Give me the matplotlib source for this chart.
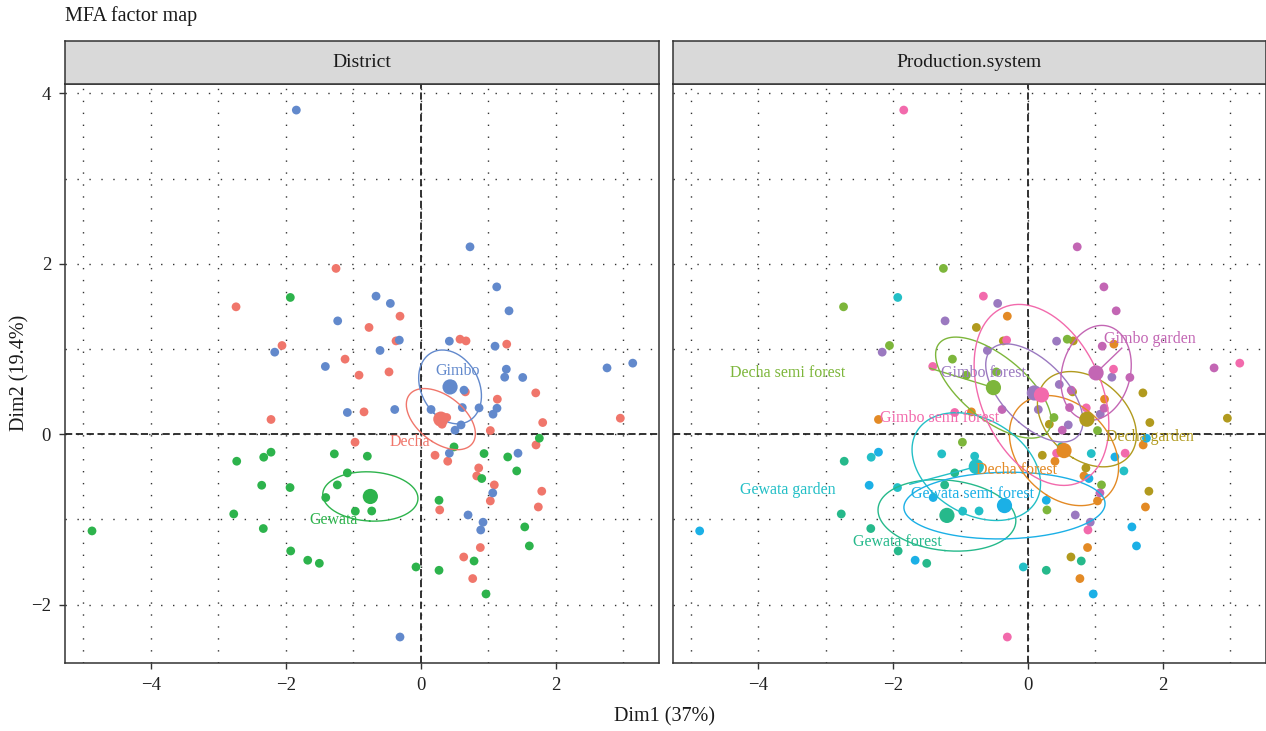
import numpy as np
import pandas as pd
import matplotlib.pyplot as plt

plt.rcParams['font.family'] = ['Liberation Serif', 'DejaVu Serif']

# individual coordinates on Dim1 / Dim2, one pair of lists per production system
decha_forest_d1 = [-2.218, -0.307, 1.274, 1.135, -0.840, 1.708, 0.400, 0.830, 1.031, 1.742, 0.883, 0.770]
decha_forest_d2 = [0.173, 1.385, 1.057, 0.411, 0.262, -0.126, -0.317, -0.490, -0.783, -0.854, -1.330, -1.694]

decha_garden_d1 = [-0.766, -0.366, 0.671, 0.661, 1.704, 0.316, 1.807, 2.957, 0.212, 0.859, 1.793, 0.637]
decha_garden_d2 = [1.253, 1.095, 1.095, 0.497, 0.485, 0.117, 0.137, 0.188, -0.247, -0.396, -0.669, -1.441]

decha_semi_d1 = [-1.255, -2.736, -2.055, -1.121, -0.914, -0.973, -0.470, 0.385, 1.031, 1.090, 0.281, 0.582]
decha_semi_d2 = [1.946, 1.495, 1.041, 0.881, 0.693, -0.094, 0.731, 0.196, 0.043, -0.595, -0.889, 1.115]

gewata_forest_d1 = [-2.726, 0.493, -1.087, -1.236, -2.770, -2.332, -1.926, -1.502, 0.790, 0.271]
gewata_forest_d2 = [-0.317, -0.149, -0.454, -0.595, -0.936, -1.107, -1.370, -1.515, -1.488, -1.597]

gewata_garden_d1 = [-1.932, -2.326, -1.280, 0.938, 1.422, -0.791, -1.936, -0.969, -0.726, -0.070]
gewata_garden_d2 = [1.605, -0.270, -0.231, -0.227, -0.431, -0.258, -0.626, -0.904, -0.901, -1.558]

gewata_semi_d1 = [-2.218, 1.757, 1.289, 0.904, -2.356, -1.407, -4.870, -1.674, 0.271, 1.541, 1.609, 0.967]
gewata_semi_d2 = [-0.211, -0.047, -0.267, -0.520, -0.599, -0.743, -1.135, -1.479, -0.775, -1.088, -1.311, -1.875]

gimbo_forest_d1 = [-1.230, -2.163, -0.450, 0.424, -0.603, 1.244, 0.464, 0.153, 1.071, 0.597, 0.701, 0.923]
gimbo_forest_d2 = [1.330, 0.963, 1.535, 1.092, 0.983, 0.669, 0.584, 0.290, 0.235, 0.109, -0.948, -1.033]

gimbo_garden_d1 = [0.730, 1.126, 1.308, 1.101, 1.511, 2.760, 1.130, 1.067, 0.641, -0.385, 0.508, 0.616]
gimbo_garden_d2 = [2.199, 1.729, 1.448, 1.033, 0.666, 0.778, 0.305, -0.689, 0.517, 0.290, 0.047, 0.313]

gimbo_semi_d1 = [-1.843, -1.413, -1.087, -0.662, -0.317, 1.268, 3.141, 0.864, 0.424, 1.441, 0.889, -0.307]
gimbo_semi_d2 = [3.804, 0.795, 0.255, 1.620, 1.104, 0.763, 0.834, 0.309, -0.223, -0.223, -1.124, -2.380]

systems = {
    "Decha forest": (decha_forest_d1, decha_forest_d2),
    "Decha garden": (decha_garden_d1, decha_garden_d2),
    "Decha semi forest": (decha_semi_d1, decha_semi_d2),
    "Gewata forest": (gewata_forest_d1, gewata_forest_d2),
    "Gewata garden": (gewata_garden_d1, gewata_garden_d2),
    "Gewata semi forest": (gewata_semi_d1, gewata_semi_d2),
    "Gimbo forest": (gimbo_forest_d1, gimbo_forest_d2),
    "Gimbo garden": (gimbo_garden_d1, gimbo_garden_d2),
    "Gimbo semi forest": (gimbo_semi_d1, gimbo_semi_d2),
}

district_colors = {"Decha": "#F0766B", "Gewata": "#2DB34C", "Gimbo": "#6289CC"}
system_colors = {
    "Decha forest": "#E38A25",
    "Decha garden": "#B19A1E",
    "Decha semi forest": "#7DB63B",
    "Gewata forest": "#26B98B",
    "Gewata garden": "#23BFC6",
    "Gewata semi forest": "#1BB0E6",
    "Gimbo forest": "#9B79C0",
    "Gimbo garden": "#C366B4",
    "Gimbo semi forest": "#F26AAC",
}

# where the group names sit (data coords) and where leader lines start
district_labels = {"Gimbo": (0.553, 0.740), "Decha": (-0.159, -0.094), "Gewata": (-1.284, -1.010)}
system_labels = {
    "Gimbo garden": (1.806, 1.115),
    "Decha semi forest": (-3.561, 0.716),
    "Gimbo forest": (-0.655, 0.716),
    "Gimbo semi forest": (-1.308, 0.188),
    "Decha garden": (1.806, -0.035),
    "Decha forest": (-0.166, -0.423),
    "Gewata garden": (-3.561, -0.658),
    "Gewata semi forest": (-0.818, -0.704),
    "Gewata forest": (-1.931, -1.268),
}
leaders = {"Gimbo garden": (1.391, 1.010), "Gewata garden": (-1.752, -0.587),
           "Decha semi forest": (-1.456, 0.775)}

rows = []
for name, (d1, d2) in systems.items():
    for a, b in zip(d1, d2):
        rows.append((a, b, name, name.split()[0]))
df = pd.DataFrame(rows, columns=["Dim1", "Dim2", "system", "district"])


def conf_ellipse(x, y, level=0.95, n=200):
    # 95% confidence ellipse around the group mean
    xy = np.column_stack([x, y])
    c = xy.mean(axis=0)
    cov = np.cov(xy, rowvar=False) / len(x)
    t = np.sqrt(-2 * np.log(1 - level))
    vals, vecs = np.linalg.eigh(cov)
    a = np.linspace(0, 2 * np.pi, n)
    circ = np.column_stack([np.cos(a), np.sin(a)])
    return c + t * circ @ (vecs * np.sqrt(vals)).T


def draw_panel(ax, col, colors, labels, title):
    ax.set_xlim(-5.27, 3.53)
    ax.set_ylim(-2.685, 4.11)
    ax.set_xticks([-4, -2, 0, 2])
    ax.set_xticks([-5, -3, -1, 1, 3], minor=True)
    ax.set_yticks([-2, 0, 2, 4])
    ax.set_yticks([-1, 1, 3], minor=True)
    ax.grid(True, which='both', color='#333333', linestyle=(0, (1, 7.6)), linewidth=1.0)
    ax.set_axisbelow(True)
    ax.tick_params(which='major', direction='out', length=4, width=1, color='#333333',
                   labelsize=13.5, labelcolor='#222222', pad=6)
    ax.tick_params(which='minor', length=0)
    for s in ax.spines.values():
        s.set_color('#333333')
        s.set_linewidth(1.1)
    ax.axhline(0, color='#222222', linestyle=(0, (4, 2)), linewidth=1.3, zorder=1.5)
    ax.axvline(0, color='#222222', linestyle=(0, (4, 2)), linewidth=1.3, zorder=1.5)

    ax.scatter(df["Dim1"], df["Dim2"], c=df[col].map(colors), s=40, edgecolors='none', zorder=3)

    for g, sub in df.groupby(col):
        ex = conf_ellipse(sub["Dim1"], sub["Dim2"])
        ax.plot(ex[:, 0], ex[:, 1], color=colors[g], linewidth=1.0, zorder=4)
        cx, cy = sub["Dim1"].mean(), sub["Dim2"].mean()
        ax.scatter([cx], [cy], color=colors[g], s=120, edgecolors='none', zorder=5)
        if g in leaders:
            lx, ly = leaders[g]
            ax.plot([lx, cx], [ly, cy], color=colors[g], linewidth=1.0, zorder=4)
        tx, ty = labels[g]
        ax.text(tx, ty, g, color=colors[g], fontsize=11.5, ha='center', va='center', zorder=6)

    # facet strip
    pos = ax.get_position()
    strip = ax.figure.add_axes([pos.x0, pos.y1, pos.width, 43 / 731])
    strip.set_facecolor('#D9D9D9')
    strip.set_xticks([])
    strip.set_yticks([])
    for s in strip.spines.values():
        s.set_color('#333333')
        s.set_linewidth(1.1)
    strip.text(0.5, 0.5, title, ha='center', va='center', fontsize=14, color='#1A1A1A')


fig = plt.figure(figsize=(12.66, 7.31), dpi=100)
ax1 = fig.add_axes([65 / 1266, 68 / 731, 594 / 1266, 579 / 731])
ax2 = fig.add_axes([672.7 / 1266, 68 / 731, 593.3 / 1266, 579 / 731])

draw_panel(ax1, "district", district_colors, district_labels, "District")
draw_panel(ax2, "system", system_colors, system_labels, "Production.system")
ax2.tick_params(axis='y', which='both', left=False, labelleft=False)

fig.text(65 / 1266, 1 - 16 / 731, "MFA factor map", fontsize=14.5, ha='left', va='center', color='#1A1A1A')
fig.text(665 / 1266, 14 / 731, "Dim1 (37%)", fontsize=14.5, ha='center', va='center', color='#1A1A1A')
fig.text(20 / 1266, 1 - 373 / 731, "Dim2 (19.4%)", fontsize=14.5, ha='center', va='center',
         rotation=90, color='#1A1A1A')

fig.savefig("out.png", dpi=100)
